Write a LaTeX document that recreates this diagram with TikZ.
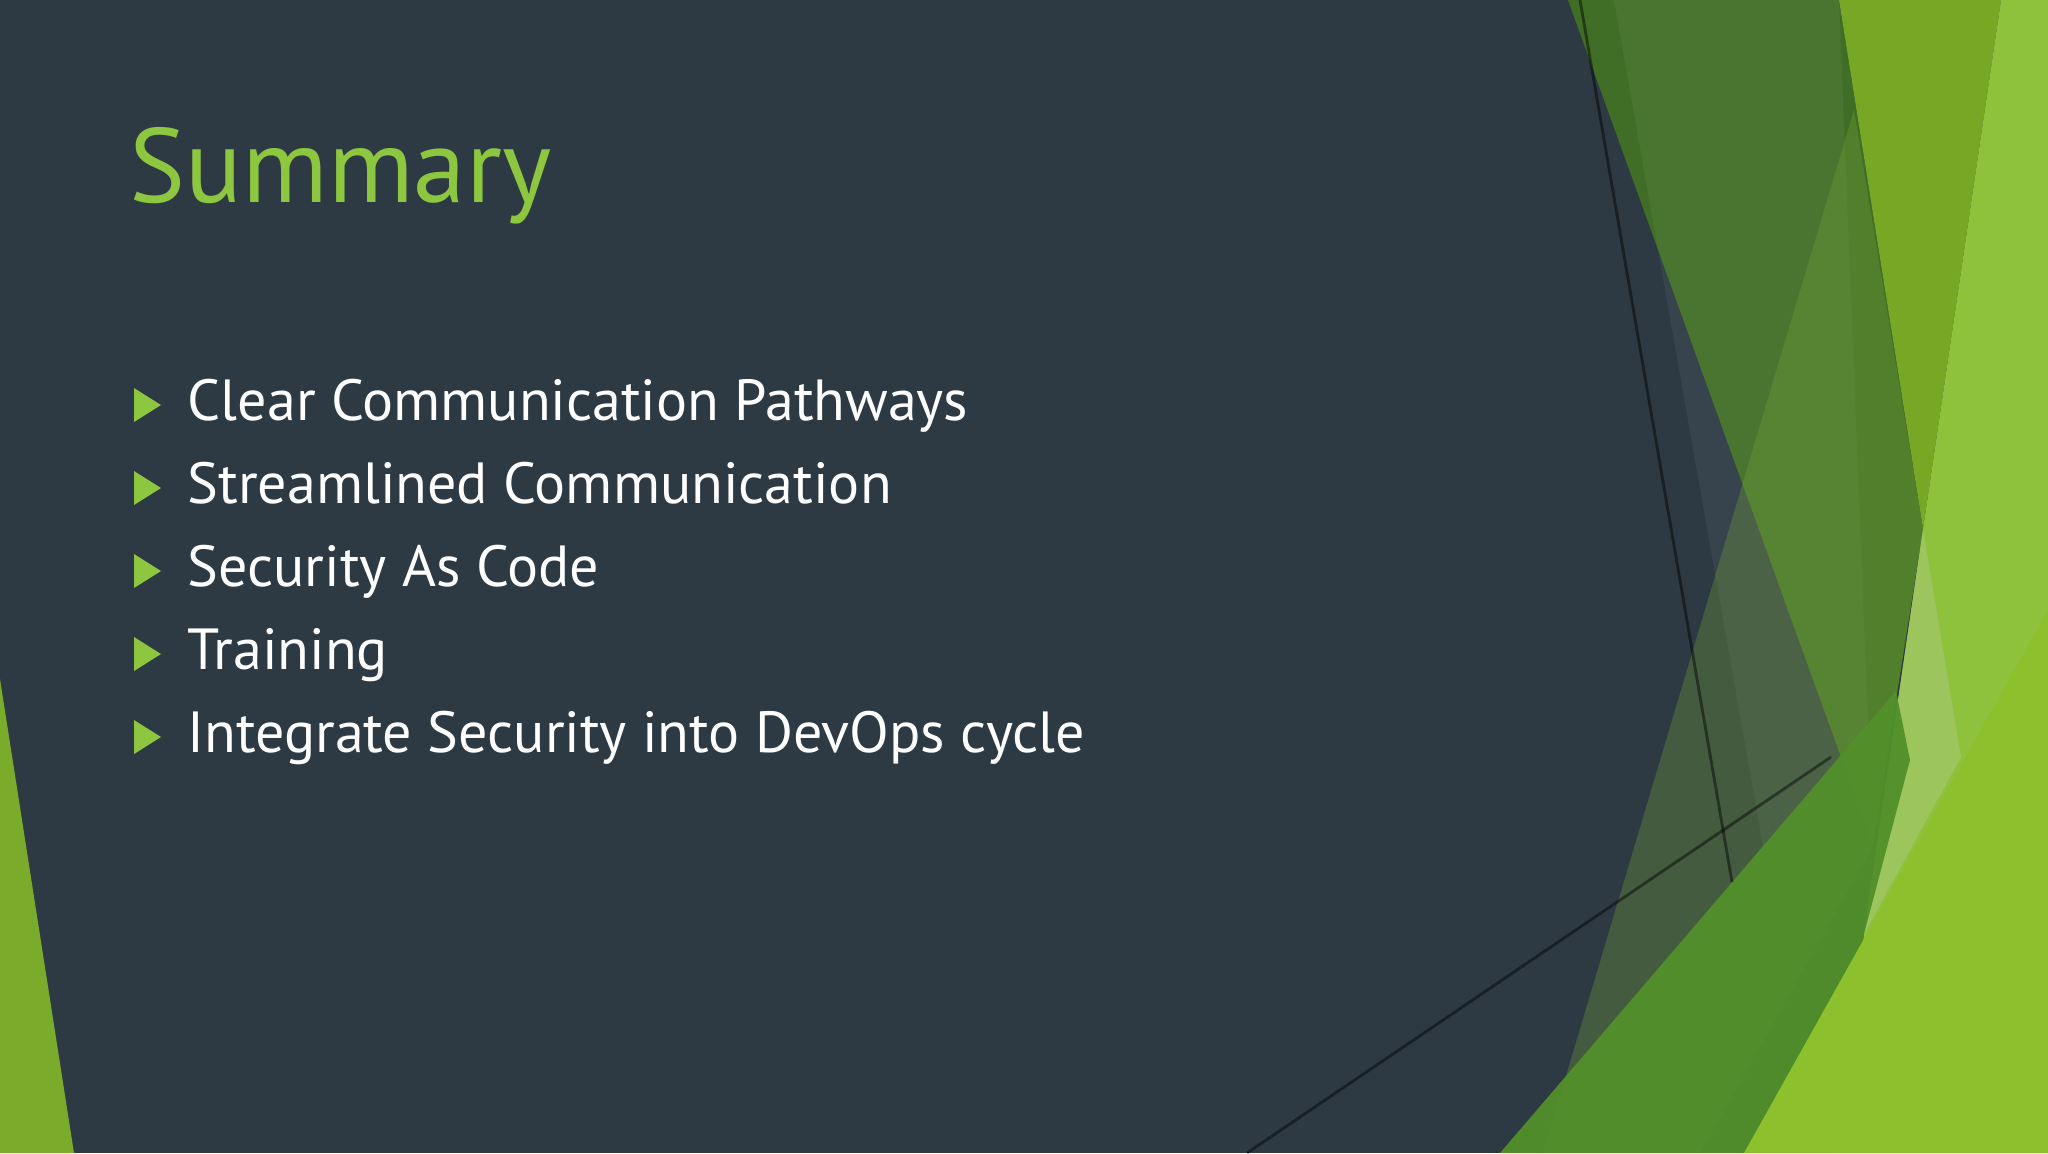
\documentclass[tikz,border=0pt]{standalone}
\usepackage{fontspec}
\setmainfont{PT Sans}
\begin{document}
\begin{tikzpicture}[x=0.01cm,y=-0.01cm,
  bul/.style={anchor=base west,text=white,font=\fontsize{16.5}{18}\selectfont,inner sep=0pt},
  tri/.style={fill=titlegreen}]
\definecolor{bg}{HTML}{2D3A44}
\definecolor{titlegreen}{HTML}{8DC63F}
\useasboundingbox (0,0) rectangle (2048,1153);
\fill[bg] (0,0) rectangle (2048,1153);
\fill[fill={rgb,255:red,122;green,171;blue,42}] (0,679) -- (74,1153) -- (0,1153) -- cycle;
% right shapes
\fill[fill={rgb,255:red,64;green,110;blue,38}] (1568,0) -- (1839,0) -- (1923,529) -- (1873,846) -- cycle;
\fill[white,opacity=0.05] (1614,0) -- (1839,0) -- (1873,846) -- (1763,846) -- cycle;
\fill[fill={rgb,255:red,118;green,168;blue,38}] (1839,0) -- (2001,0) -- (1923,529) -- cycle;
\fill[fill={rgb,255:red,143;green,194;blue,60}] (2001,0) -- (2048,0) -- (2048,1153) -- (1831,1153) -- (1864,934) -- (1923,529) -- cycle;
\fill[fill={rgb,255:red,156;green,197;blue,94}] (1923,529) -- (1961,757) -- (1864,934) -- cycle;
\fill[fill={rgb,255:red,122;green,168;blue,58},opacity=0.3] (1854,110) -- (1923,529) -- (1873,846) -- (1700,1153) -- (1543,1153) -- cycle;
\fill[fill={rgb,255:red,82;green,144;blue,42},opacity=0.95] (1500,1153) -- (1896,691) -- (1910,760) -- (1864,934) -- (1831,1153) -- cycle;
\fill[fill={rgb,255:red,140;green,192;blue,44}] (2048,610) -- (2048,1153) -- (1744,1153) -- cycle;
\draw[black,opacity=0.45,line width=0.8] (1580,0) -- (1732,882);
\draw[black,opacity=0.45,line width=0.8] (1247,1153) -- (1831,757);
% text
\node[anchor=base west,text=titlegreen,font=\fontsize{30}{34}\selectfont,inner sep=0pt] (title) at (129,202) {Summary};
\foreach \i/\t in {0/Clear Communication Pathways,1/Streamlined Communication,2/Security As Code,3/Training,4/Integrate Security into DevOps cycle}{
  \node[bul] (b\i) at (187,420+83*\i) {\t};
  \fill[titlegreen] (134,388+83*\i) -- (161,405+83*\i) -- (134,422+83*\i) -- cycle;
}
\end{tikzpicture}
\end{document}
